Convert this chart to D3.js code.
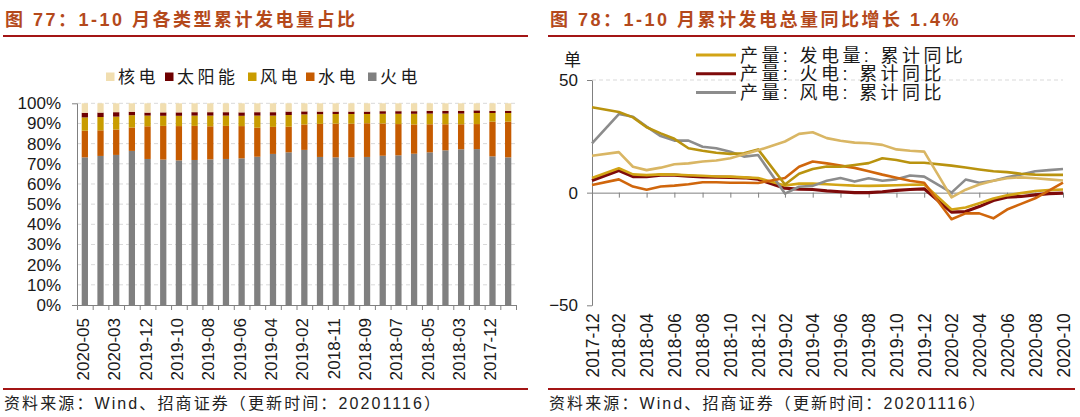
<!DOCTYPE html>
<html><head><meta charset="utf-8">
<script src="https://cdn.jsdelivr.net/npm/d3@7"></script>
<style>
html,body{margin:0;padding:0;background:#fff;}
svg{display:block;font-family:"Liberation Sans",Arial,"Noto Sans CJK SC",sans-serif;}
</style></head>
<body>
<svg id="c" width="1080" height="417"></svg>
<script>
// ---------- LEFT: share of cumulative generation by type ----------
const leftCats = ["2020-05","2020-04","2020-03","2020-02","2019-12","2019-11","2019-10","2019-09","2019-08","2019-07","2019-06","2019-05","2019-04","2019-03","2019-02","2018-12","2018-11","2018-10","2018-09","2018-08","2018-07","2018-06","2018-05","2018-04","2018-03","2018-02","2017-12","2017-11"];
const shareThermal = [73.2,73.9,74.4,76.4,72.4,72.1,71.7,71.9,72.2,72.4,72.7,73.5,74.9,75.7,76.9,73.4,73.2,73.2,73.4,74.0,74.2,75.0,75.7,76.7,77.2,77.3,73.7,73.2];
const shareHydro   = [13.2,12.7,12.6,11.6,16.2,16.7,17.0,16.9,16.4,16.4,16.0,14.4,13.4,12.7,12.6,16.4,16.7,16.7,16.7,16.0,15.5,14.5,13.9,12.9,12.4,12.4,17.2,17.7];
const shareWind    = [6.6,6.6,6.4,6.1,5.3,5.0,5.1,5.1,5.3,5.1,5.1,6.0,5.6,5.8,5.0,4.8,4.8,4.8,4.6,4.8,5.1,5.3,5.3,5.3,5.3,5.5,4.3,4.3];
const shareSolar   = [2.3,2.2,2.2,1.7,1.5,1.7,1.7,1.7,1.7,1.7,1.7,1.7,1.7,1.7,1.5,1.3,1.2,1.2,1.2,1.3,1.3,1.3,1.3,1.3,1.3,1.3,1.0,1.0];
const shareNuclear = [4.7,4.6,4.4,4.2,4.6,4.5,4.5,4.4,4.4,4.4,4.5,4.4,4.4,4.1,4.0,4.1,4.1,4.1,4.1,3.9,3.9,3.9,3.8,3.8,3.8,3.5,3.8,3.8];
const leftKeys   = ["火电","水电","风电","太阳能","核电"];           // stacking order bottom->top
const leftLegend = ["核电","太阳能","风电","水电","火电"];
const leftYTicks = [0,0.1,0.2,0.3,0.4,0.5,0.6,0.7,0.8,0.9,1.0];

// ---------- RIGHT: cumulative yoy growth ----------
const rightDates = ["2017-12","2018-02","2018-03","2018-04","2018-05","2018-06","2018-07","2018-08","2018-09","2018-10","2018-11","2018-12","2019-02","2019-03","2019-04","2019-05","2019-06","2019-07","2019-08","2019-09","2019-10","2019-11","2019-12","2020-02","2020-03","2020-04","2020-05","2020-06","2020-07","2020-08","2020-09","2020-10"];
const yoyTotal   = [6.5,10.8,8.1,7.8,8.1,8.0,7.7,7.5,7.2,7.1,6.8,6.5,3.2,4.0,4.0,3.7,3.4,3.1,3.0,3.1,3.3,3.5,3.6,-7.5,-6.6,-4.7,-2.6,-1.2,-0.2,0.7,1.1,1.4];
const yoyThermal = [5.4,9.8,7.1,7.1,7.8,7.8,7.3,7.0,6.9,6.8,6.6,6.0,2.0,1.5,1.4,0.8,0.4,0.0,0.0,0.4,1.0,1.4,1.7,-8.6,-8.4,-6.2,-3.5,-2.0,-1.7,-1.0,-0.4,-0.2];
const yoyWind    = [21.9,34.9,33.7,29.3,25.1,23.1,23.1,20.4,19.7,18.2,16.0,16.7,-0.4,2.6,3.0,5.3,6.5,4.9,6.4,5.3,5.9,7.6,7.1,0.0,5.8,4.4,5.3,6.8,8.1,9.5,10.0,10.5];
const yoyHydro   = [3.4,5.9,2.7,1.3,2.7,3.1,3.7,4.6,4.6,4.4,4.4,4.3,6.5,11.5,13.8,13.0,12.0,11.0,9.5,8.0,6.6,5.3,4.4,-11.8,-9.2,-9.2,-11.4,-7.5,-5.0,-2.5,0.9,4.4];
const yoyNuclear = [16.4,18.0,11.5,10.0,11.1,12.6,13.0,13.8,14.3,15.3,17.0,18.8,22.7,26.1,26.8,24.2,23.0,22.2,21.9,21.2,19.2,18.6,18.2,-2.1,1.3,3.6,5.3,6.4,6.8,6.4,5.9,5.4];
const yoySolar   = [37.9,35.8,33.4,29.0,26.3,23.9,19.7,18.6,17.7,17.2,17.5,19.2,3.6,8.4,10.5,11.6,11.5,12.3,13.1,15.3,14.5,13.3,13.3,12.0,11.2,10.3,9.5,9.1,8.4,8.0,7.9,7.9];
const rightXTicks = ["2017-12","2018-02","2018-04","2018-06","2018-08","2018-10","2018-12","2019-02","2019-04","2019-06","2019-08","2019-10","2019-12","2020-02","2020-04","2020-06","2020-08","2020-10"];
const rightYTicks = [-50,0,50];
const rightLegend = ["产量: 发电量: 累计同比","产量: 火电: 累计同比","产量: 风电: 累计同比"];

// ---------- styles ----------
const leftColors = {"核电":"#F1DEB0","太阳能":"#6E0000","风电":"#C99C00","水电":"#C65B00","火电":"#808080"};
const lineSeries = [
  {name:"火电", values:yoyThermal, color:"#7E0A0A", w:3.2},
  {name:"发电量", values:yoyTotal, color:"#D2A416", w:2.6},
  {name:"风电", values:yoyWind, color:"#8C8C8C", w:2.6},
  {name:"水电", values:yoyHydro, color:"#D0660C", w:2.6},
  {name:"太阳能", values:yoySolar, color:"#B9930F", w:2.6},
  {name:"核电", values:yoyNuclear, color:"#D9B664", w:2.6}
];
const legendColors = ["#D2A416","#7E0A0A","#8C8C8C"];
const titleColor = "#B4491B", ruleColor = "#A31515", axisColor = "#808080", textColor = "#1a1a1a";

const svg = d3.select("#c");

// ---------- headers and footers ----------
function header(x0, x1, title){
  svg.append("text").attr("x", x0).attr("y", 26).attr("fill", titleColor)
    .attr("font-size", 18).attr("font-weight", "bold").attr("letter-spacing", 2.5).text(title);
  svg.append("line").attr("x1", x0-2).attr("x2", x1).attr("y1", 36).attr("y2", 36)
    .attr("stroke", ruleColor).attr("stroke-width", 2);
  svg.append("line").attr("x1", x0-2).attr("x2", x1).attr("y1", 389).attr("y2", 389)
    .attr("stroke", ruleColor).attr("stroke-width", 2);
  svg.append("text").attr("x", x0-1).attr("y", 409).attr("fill", "#222")
    .attr("font-size", 16).attr("letter-spacing", 2.1).text("资料来源：Wind、招商证券（更新时间：20201116）");
}
header(5, 528, "图 77：1-10 月各类型累计发电量占比");
header(550, 1075, "图 78：1-10 月累计发电总量同比增长 1.4%");

// ---------- LEFT CHART ----------
const L = {x0:77, x1:516, yTop:103.3, yBot:305};
const rows = leftCats.map((c,i)=>({cat:c, "火电":shareThermal[i]/100, "水电":shareHydro[i]/100, "风电":shareWind[i]/100, "太阳能":shareSolar[i]/100, "核电":shareNuclear[i]/100}));
const xL = d3.scaleBand().domain(leftCats).range([L.x0, L.x1]).paddingInner(0.6).paddingOuter(0.3);
const yL = d3.scaleLinear().domain([0,1]).range([L.yBot, L.yTop]);
const gL = svg.append("g");

// gridlines
gL.append("g").selectAll("line").data(leftYTicks.filter(d=>d>0)).join("line")
  .attr("x1", L.x0).attr("x2", L.x1).attr("y1", d=>yL(d)).attr("y2", d=>yL(d))
  .attr("stroke", "#D9D9D9").attr("stroke-dasharray", "4,3");

// bars
const stacked = d3.stack().keys(leftKeys)(rows);
gL.append("g").selectAll("g").data(stacked).join("g").attr("fill", d=>leftColors[d.key])
  .selectAll("rect").data(d=>d).join("rect")
  .attr("x", d=>xL(d.data.cat)).attr("width", xL.bandwidth())
  .attr("y", d=>yL(d[1])).attr("height", d=>yL(d[0])-yL(d[1]));

// y axis
const yAxL = gL.append("g").attr("transform", `translate(${L.x0},0)`)
  .call(d3.axisLeft(yL).tickValues(leftYTicks).tickFormat(d3.format(".0%")).tickSize(0).tickSizeOuter(5).tickPadding(16));
yAxL.select(".domain").attr("stroke", axisColor);
yAxL.selectAll("text").attr("font-size", 17).attr("fill", textColor).attr("font-family", null);

// x axis (boundary ticks)
const xbL = d3.scaleLinear().domain([0, leftCats.length]).range([L.x0, L.x1]);
const xAxL = gL.append("g").attr("transform", `translate(0,${L.yBot})`)
  .call(d3.axisBottom(xbL).tickValues(d3.range(leftCats.length+1)).tickSize(5).tickSizeOuter(0).tickFormat(""));
xAxL.selectAll("line,path").attr("stroke", axisColor);
// x labels
const xLabL = gL.append("g").attr("transform", `translate(0,${L.yBot})`)
  .call(d3.axisBottom(xL).tickValues(leftCats.filter((d,i)=>i%2===0)).tickSize(0));
xLabL.select(".domain").remove();
xLabL.selectAll("text").attr("transform","rotate(-90)").attr("x",-13).attr("y",-2).attr("dy","0.35em")
  .attr("text-anchor","end").attr("font-size",17).attr("fill",textColor).attr("font-family", null);

// legend
const legPosL = [106,165,248,306,368];
const lgL = gL.append("g").selectAll("g").data(leftLegend).join("g")
  .attr("transform", (d,i)=>`translate(${legPosL[i]},77)`);
lgL.append("rect").attr("x",0).attr("y",-4.5).attr("width",8.5).attr("height",8.5).attr("fill", d=>leftColors[d]);
lgL.append("text").attr("x",12).attr("y",6).attr("font-size",17).attr("letter-spacing",3.5).attr("fill",textColor).text(d=>d);

// ---------- RIGHT CHART ----------
const R = {x0:592, x1:1063, yTop:80, yBot:305.3};
const parseMonthEnd = s => { const [y,m] = s.split("-").map(Number); return new Date(Date.UTC(y, m, 0)); };
const xR = d3.scaleUtc().domain([parseMonthEnd(rightDates[0]), parseMonthEnd(rightDates[rightDates.length-1])]).range([R.x0, R.x1]);
const yR = d3.scaleLinear().domain([-50,50]).range([R.yBot, R.yTop]);
const gR = svg.append("g");

gR.append("line").attr("x1", R.x0).attr("x2", R.x1).attr("y1", yR(50)).attr("y2", yR(50))
  .attr("stroke", "#D9D9D9").attr("stroke-dasharray", "4,3");

// axes
const yAxR = gR.append("g").attr("transform", `translate(${R.x0},0)`)
  .call(d3.axisLeft(yR).tickValues(rightYTicks).tickSize(5).tickSizeOuter(0).tickPadding(9));
yAxR.selectAll("line,path").attr("stroke", axisColor);
yAxR.selectAll("text").attr("font-size", 17).attr("fill", textColor).attr("font-family", null);

const tickDates = rightXTicks.map(parseMonthEnd);
const xAxR = gR.append("g").attr("transform", `translate(0,${yR(0)})`)
  .call(d3.axisBottom(xR).tickValues(tickDates).tickSize(5).tickSizeOuter(0).tickFormat(""));
xAxR.selectAll("line,path").attr("stroke", axisColor);

const labelFmt = d3.utcFormat("%Y-%m");
const xLabR = gR.append("g").attr("transform", `translate(0,${R.yBot})`)
  .call(d3.axisBottom(xR).tickValues(tickDates).tickSize(0).tickFormat(labelFmt));
xLabR.select(".domain").remove();
xLabR.selectAll("text").attr("transform","rotate(-90)").attr("x",-8).attr("y",0).attr("dy","0.35em")
  .attr("text-anchor","end").attr("font-size",17.5).attr("fill",textColor).attr("font-family", null);

// lines
const line = d3.line().x((d,i)=>xR(parseMonthEnd(rightDates[i]))).y(d=>yR(d));
gR.append("g").selectAll("path").data(lineSeries).join("path")
  .attr("d", d=>line(d.values)).attr("fill","none").attr("stroke", d=>d.color)
  .attr("stroke-width", d=>d.w).attr("stroke-linejoin","round");

// unit label (clipped in original)
gR.append("text").attr("x", 564).attr("y", 66).attr("font-size", 17).attr("fill", textColor).text("单");

// legend
const lgR = gR.append("g").selectAll("g").data(rightLegend).join("g")
  .attr("transform", (d,i)=>`translate(696,${55+i*18.8})`);
lgR.append("line").attr("x1",0).attr("x2",40).attr("y1",0).attr("y2",0)
  .attr("stroke",(d,i)=>legendColors[i]).attr("stroke-width",3);
lgR.append("text").attr("x",44).attr("y",6.5).attr("font-size",18).attr("letter-spacing",3.4).attr("fill",textColor).text(d=>d);
</script>
</body></html>
